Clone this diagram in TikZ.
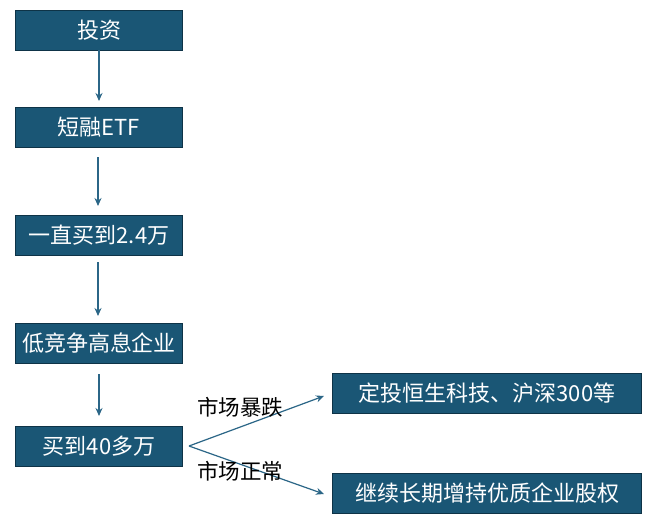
\documentclass[tikz,border=0pt]{standalone}
\usepackage{fontspec}
\setmainfont{Noto Sans CJK SC}
\usetikzlibrary{arrows.meta}
\definecolor{boxfill}{HTML}{1A5675}
\definecolor{boxline}{HTML}{0E3347}
\definecolor{arrowc}{HTML}{2B6687}
\tikzset{
  box/.style={draw=boxline, line width=1pt, fill=boxfill, text=white, font=\fontsize{22}{25}\selectfont, inner sep=0pt, anchor=north west},
  arr/.style={draw=arrowc, line width=1.2pt, -{Stealth[length=8pt,width=7pt]}},
  lbl/.style={font=\fontsize{21.5}{24}\selectfont, text=black}
}
\begin{document}
\begin{tikzpicture}[x=1pt,y=-1pt]
\useasboundingbox (0,0) rectangle (648,523);
\fill[white] (0,0) rectangle (648,523);
\node[box, minimum width=167pt, minimum height=40pt] (b1) at (15,10) {投资};
\node[box, minimum width=167pt, minimum height=40pt] (b2) at (15,107) {短融ETF};
\node[box, minimum width=167pt, minimum height=40pt] (b3) at (15,215) {一直买到2.4万};
\node[box, minimum width=167pt, minimum height=40pt] (b4) at (15,323) {低竞争高息企业};
\node[box, minimum width=167pt, minimum height=40pt] (b5) at (15,426) {买到40多万};
\node[box, minimum width=309pt, minimum height=40pt] (b6) at (332,373) {定投恒生科技、沪深300等};
\node[box, minimum width=309pt, minimum height=40pt] (b7) at (332,473) {继续长期增持优质企业股权};
\coordinate (s1) at (99,50); \coordinate (e1) at (99,101);
\coordinate (s2) at (98,157); \coordinate (e2) at (98,206);
\coordinate (s3) at (98,262); \coordinate (e3) at (98,316);
\coordinate (s4) at (99,374); \coordinate (e4) at (99,416);
\draw[arr] (s1) -- (e1);
\draw[arr] (s2) -- (e2);
\draw[arr] (s3) -- (e3);
\draw[arr] (s4) -- (e4);
\coordinate (fork) at (189,446);
\coordinate (t1) at (324,396);
\coordinate (t2) at (324,494);
\draw[arr] (fork) -- (t1);
\draw[arr] (fork) -- (t2);
\node[lbl] (l1) at (240,407) {市场暴跌};
\node[lbl] (l2) at (240,471) {市场正常};
\end{tikzpicture}
\end{document}
